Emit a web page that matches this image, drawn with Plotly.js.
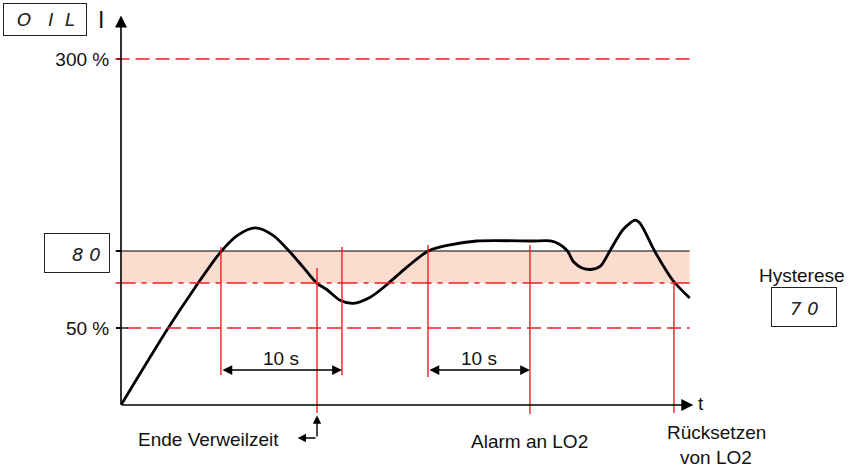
<!DOCTYPE html>
<html>
<head>
<meta charset="utf-8">
<script src="https://cdn.plot.ly/plotly-3.0.1.min.js"></script>
<style>html,body{margin:0;padding:0;background:#fff;}#chart{width:850px;height:467px;}</style>
</head>
<body>
<div id="chart"></div>
<script>
// ---- data (t in s, level in % of schematic scale) ----
const curveT = [0, 3.9, 6.1, 8.2, 9.6, 11.1, 12.6, 14.0, 15.0, 16.2, 17.0, 18.1, 19.2, 20.6, 21.8, 23.1, 25.4, 27.2, 29.4, 34.0, 35.5, 36.2, 36.9, 37.4, 38.1, 38.8, 39.6, 40.4, 41.5, 42.5, 42.9, 44.1, 45.6, 47.0];
const curveV = [0, 50, 76, 99, 110, 115, 110, 99, 90, 79, 75, 68, 66, 70, 77, 86, 100, 104, 106.5, 106.5, 106.5, 104.5, 100, 93, 89, 88, 90, 100, 114, 120, 118, 100, 81, 69.5];

const levelSetpoint = 100;     // display "80"
const levelHysteresis = 79.2;  // setpoint minus hysteresis "70"
const level50 = 50;
const level300 = 224.7;
const yTickVals = [50, 100, 224.7];
const yTickText = ['50 %', '', '300 %'];

const dwell1 = [8.26, 18.26];
const dwell2 = [25.37, 33.8];
const endDwellT = 16.2;
const alarmT = 33.8;
const resetT = 45.7;
const tEnd = 47.0;
const dwellLabel = '10 s';

const displayTop = 'O\u00A0\u00A0\u00A0I\u00A0\u00A0L';
const displaySet = '8\u00A00';
const displayHyst = '7\u00A00';

// ---- drawing ----
const RED = '#f01c24';
const FONT = 'Liberation Sans, Arial, sans-serif';
const FS = 19;

const traces = [{
  x: curveT, y: curveV, type: 'scatter', mode: 'lines',
  line: {color: '#000', width: 2.8, shape: 'spline', smoothing: 0.8},
  hoverinfo: 'skip', showlegend: false
}];

function vline(t, y0, y1) {
  return {type: 'line', xref: 'x', yref: 'y', x0: t, x1: t, y0: y0, y1: y1,
          line: {color: RED, width: 1.4}};
}
function hline(v, x0, x1, color, dash, w) {
  return {type: 'line', xref: 'x', yref: 'y', x0: x0, x1: x1, y0: v, y1: v,
          line: {color: color, width: w || 1, dash: dash || 'solid'}};
}

const shapes = [
  {type: 'rect', xref: 'x', yref: 'y', x0: 0, x1: tEnd, y0: levelHysteresis, y1: levelSetpoint,
   fillcolor: 'rgb(252,220,206)', line: {width: 0}, layer: 'below'},
  hline(level300, -0.45, tEnd, RED, '14px,6px', 1.5),
  hline(level50, 0.5, tEnd, RED, '14px,6px', 1.5),
  hline(levelHysteresis, -0.45, tEnd, RED, '20px,6px,5px,6px', 1.5),
  hline(levelSetpoint, -0.45, tEnd, '#000', 'solid', 1.2),
  hline(level50, -0.4, 0.6, '#000', 'solid', 1.3),
  vline(dwell1[0], 102.6, 19.5),
  vline(dwell1[1], 102.6, 19.5),
  vline(endDwellT, 89.0, -5.2),
  vline(dwell2[0], 103.9, 18.2),
  vline(alarmT, 103.9, -5.8),
  vline(resetT, 79.9, -5.2)
];

function arrow(x, y, ax, ay, opts) {
  return Object.assign({x: x, y: y, ax: ax, ay: ay, xref: 'x', yref: 'y', axref: 'x', ayref: 'y',
    text: '', showarrow: true, arrowhead: 2, arrowsize: 1.3, arrowwidth: 1.3, arrowcolor: '#000',
    standoff: 0, startstandoff: 0}, opts || {});
}
function ptext(px, py, text, size, extra) {
  return Object.assign({xref: 'paper', yref: 'paper', x: px / 850, y: 1 - py / 467, text: text,
    showarrow: false, xanchor: 'center', yanchor: 'middle',
    font: {family: FONT, size: size || FS, color: '#111'}}, extra || {});
}
function box(cx, cy, w, h) {
  return {xref: 'paper', yref: 'paper', x: cx / 850, y: 1 - cy / 467, text: '', showarrow: false,
    xanchor: 'center', yanchor: 'middle', width: w, height: h, bordercolor: '#222', borderwidth: 1, borderpad: 0};
}
const segFont = {family: 'DejaVu Sans, sans-serif', size: 18, color: '#222'};

const annotations = [
  // axes
  arrow(0, 253.0, 0, 0, {arrowwidth: 1.6, arrowsize: 1.5}),
  arrow(47.3, 0, 0, 0, {arrowwidth: 1.6, arrowsize: 1.5}),
  // 10 s dimension arrows
  arrow(dwell1[1], 22.7, dwell1[0], 22.7, {arrowside: 'end+start', arrowwidth: 1.4, arrowsize: 1.4}),
  arrow(dwell2[1], 22.7, dwell2[0], 22.7, {arrowside: 'end+start', arrowwidth: 1.4, arrowsize: 1.4}),
  {x: (dwell1[0] + dwell1[1]) / 2, y: 30.5, xref: 'x', yref: 'y', text: dwellLabel, showarrow: false,
   font: {family: FONT, size: FS, color: '#111'}},
  {x: (dwell2[0] + dwell2[1]) / 2, y: 30.5, xref: 'x', yref: 'y', text: dwellLabel, showarrow: false,
   font: {family: FONT, size: FS, color: '#111'}},
  // Ende Verweilzeit pointer
  arrow(endDwellT, -6.8, endDwellT, -21.4, {arrowwidth: 1.4, arrowsize: 1.2}),
  arrow(14.6, -21.4, endDwellT, -21.4, {arrowwidth: 1.4, arrowsize: 1.2}),
  // axis labels
  {x: 47.9, y: 0.8, xref: 'x', yref: 'y', text: 't', showarrow: false, xanchor: 'center',
   font: {family: FONT, size: FS, color: '#111'}},
  ptext(101, 20, 'I', 23),
  // bottom texts
  ptext(208, 439, 'Ende Verweilzeit'),
  ptext(529, 441, 'Alarm an LO2'),
  ptext(716, 445, 'Rücksetzen', FS, {yanchor: 'bottom', y: 1 - 445 / 467}),
  ptext(716, 445, 'von LO2', FS, {yanchor: 'top', y: 1 - 445 / 467}),
  ptext(802, 275, 'Hysterese'),
  // display boxes
  box(45, 19.5, 82, 31),
  box(77, 253, 64, 38),
  box(804, 307, 64, 38),
  ptext(46, 20, '<i>' + displayTop + '</i>', 18, {font: segFont}),
  ptext(86, 254, '<i>' + displaySet + '</i>', 18, {font: segFont}),
  ptext(804, 308, '<i>' + displayHyst + '</i>', 18, {font: segFont})
];

const layout = {
  width: 850, height: 467,
  margin: {l: 0, r: 0, t: 0, b: 0, autoexpand: false},
  paper_bgcolor: '#fff', plot_bgcolor: '#fff',
  showlegend: false,
  xaxis: {range: [-10.0, 60.25], visible: false, fixedrange: true},
  yaxis: {range: [-40.26, 262.99], anchor: 'free', position: 121 / 850, side: 'left',
          showgrid: false, zeroline: false, showline: false,
          tickmode: 'array', tickvals: yTickVals, ticktext: yTickText,
          ticks: 'outside', ticklen: 5, tickwidth: 1.3, tickcolor: '#000',
          ticklabelstandoff: 3,
          tickfont: {family: FONT, size: FS, color: '#111'}, fixedrange: true},
  shapes: shapes,
  annotations: annotations
};

Plotly.newPlot('chart', traces, layout, {displayModeBar: false, staticPlot: true});
</script>
</body>
</html>
